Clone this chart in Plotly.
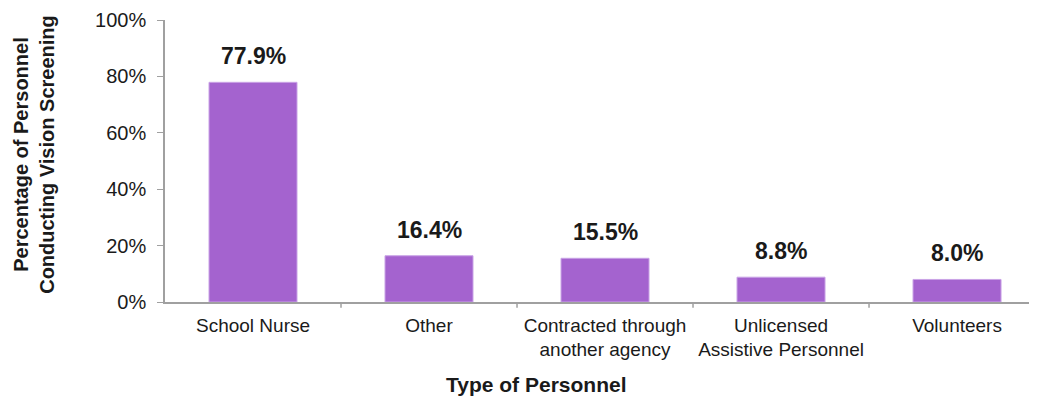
import plotly.graph_objects as go

categories = ["School Nurse", "Other", "Contracted through<br>another agency",
              "Unlicensed<br>Assistive Personnel", "Volunteers"]
values = [77.9, 16.4, 15.5, 8.8, 8.0]
labels = ["77.9%", "16.4%", "15.5%", "8.8%", "8.0%"]
y_ticks = [0, 20, 40, 60, 80, 100]
y_tick_labels = ["0%", "20%", "40%", "60%", "80%", "100%"]

FONT = "Liberation Sans, Arial, sans-serif"

fig = go.Figure(go.Bar(
    x=list(range(len(categories))),
    y=values,
    width=0.5,
    marker=dict(color="#A463CF", line=dict(color="#C9A3E6", width=1)),
))

annotations = [
    dict(x=i, y=v, xref="x", yref="y", text=f"<b>{t}</b>", showarrow=False,
         xanchor="center", yanchor="bottom", yshift=11,
         font=dict(family=FONT, size=23, color="#1a1a1a"))
    for i, (v, t) in enumerate(zip(values, labels))
]
annotations += [
    dict(text="<b>Percentage of Personnel<br>Conducting Vision Screening</b>",
         xref="paper", yref="paper", x=-0.180, y=0.525, xanchor="left", yanchor="middle",
         textangle=-90, showarrow=False,
         font=dict(family=FONT, size=20, color="#1a1a1a")),
    dict(text="<b>Type of Personnel</b>",
         xref="paper", yref="paper", x=0.425, y=-0.294,
         xanchor="center", yanchor="middle", showarrow=False,
         font=dict(family=FONT, size=21, color="#1a1a1a")),
]

fig.update_layout(
    width=1030, height=402,
    margin=dict(l=157, r=0, t=12, b=108),
    paper_bgcolor="white", plot_bgcolor="white",
    showlegend=False,
    font=dict(family=FONT, color="#1a1a1a"),
    xaxis=dict(
        range=[-0.5, 4.46],
        tickmode="array",
        tickvals=list(range(len(categories))),
        ticktext=categories,
        tickfont=dict(family=FONT, size=19, color="#1a1a1a"),
        showline=True, linecolor="#A0A0A0", linewidth=1.5,
        showgrid=False, zeroline=False,
        ticks="",
        ticklabelstandoff=5,
    ),
    yaxis=dict(
        range=[0, 100],
        tickmode="array",
        tickvals=y_ticks,
        ticktext=y_tick_labels,
        tickfont=dict(family=FONT, size=20, color="#1a1a1a"),
        showline=True, linecolor="#A0A0A0", linewidth=1.5,
        ticks="outside", ticklen=6, tickcolor="#A0A0A0",
        ticklabelstandoff=7,
        showgrid=False, zeroline=False,
    ),
    annotations=annotations,
)

# category boundary tick marks along x axis
for b in [0.5, 1.5, 2.5, 3.5]:
    fig.add_shape(type="line", xref="x", yref="paper", x0=b, x1=b, y0=0, y1=-0.02,
                  line=dict(color="#A0A0A0", width=1.5))

fig.write_html("out.html")
